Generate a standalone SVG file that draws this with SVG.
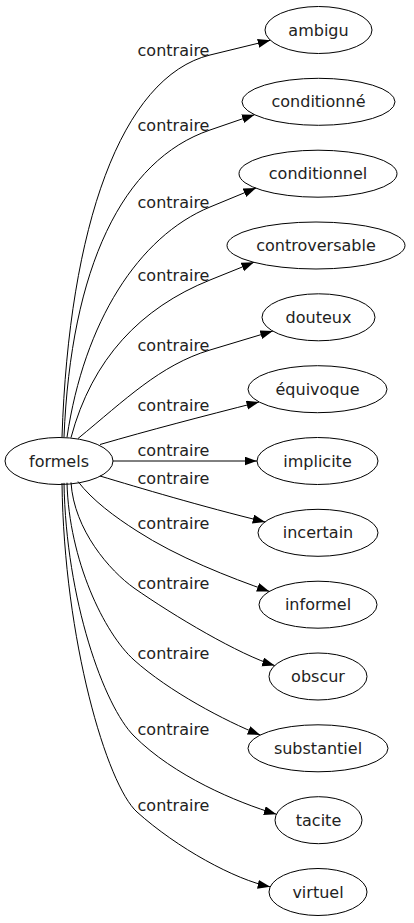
<svg xmlns="http://www.w3.org/2000/svg" width="414" height="923" viewBox="0 0 414 923">
<defs>
<marker id="arr" markerUnits="userSpaceOnUse" markerWidth="14" markerHeight="10" refX="12.5" refY="4.5" orient="auto">
<path d="M0,0 L12.5,4.5 L0,9 Z" fill="#000"/>
</marker>
<style>
.n ellipse{fill:none;stroke:#000;stroke-width:1}
.n text{font-family:"DejaVu Sans",sans-serif;font-size:16px;text-anchor:middle;fill:#222}
.e path{fill:none;stroke:#000;stroke-width:1;marker-end:url(#arr)}
.e text{font-family:"DejaVu Sans",sans-serif;font-size:16px;text-anchor:middle;fill:#222}
</style>
</defs>
<rect width="414" height="923" fill="#fff"/>
<g id="edges" class="e">
<path d="M62,437 C69,227 121,77 210,55 L270.3,40.3"/>
<path d="M64,437 C71,268 122,160 210,130 L254.5,114.7"/>
<path d="M67,437.3 C84,322 138.5,236.5 210,207 L256,188"/>
<path d="M71,437.6 C92,359 140.5,308 210,280 L253.9,262.3"/>
<path d="M78,438.5 C125,400 160,365 210,350 L272.8,331.1"/>
<path d="M100,444.5 C150,430 200,417 259,402"/>
<path d="M113,461 L257,461"/>
<path d="M100,476 C140,488 200,506 265.2,522"/>
<path d="M78,481.5 C92,500 115,517 137,531 C177,557 229.4,577.4 269.4,591.4"/>
<path d="M71,482.4 C74,530 110,571 134,588 C174,616 239.7,655 274.7,665.5"/>
<path d="M67,482.7 C69,560 104,633 134,660 C169,691.5 225.2,721 260.2,735"/>
<path d="M64,482.9 C66,600 104,706 134,736 C174,776 236.4,802.2 276.4,814.2"/>
<path d="M62,483 C64,640 107,785 137,812 C177,848 235.2,879.8 270.2,886.8"/>
<text x="173.5" y="56">contraire</text>
<text x="173.5" y="131">contraire</text>
<text x="173.5" y="208">contraire</text>
<text x="173.5" y="281">contraire</text>
<text x="173.5" y="351">contraire</text>
<text x="173.5" y="411">contraire</text>
<text x="173.5" y="456">contraire</text>
<text x="173.5" y="484">contraire</text>
<text x="173.5" y="529">contraire</text>
<text x="173.5" y="589">contraire</text>
<text x="173.5" y="659">contraire</text>
<text x="173.5" y="735">contraire</text>
<text x="173.5" y="811">contraire</text>
</g>
<g id="formels" class="n"><ellipse cx="59" cy="461" rx="54" ry="23.5"/><text x="59" y="466.5">formels</text></g>
<g id="ambigu" class="n"><ellipse cx="318.5" cy="30" rx="53.5" ry="23.5"/><text x="318.5" y="35.5">ambigu</text></g>
<g id="conditionne" class="n"><ellipse cx="318.5" cy="101.8" rx="76.5" ry="23.5"/><text x="318.5" y="107.3">conditionné</text></g>
<g id="conditionnel" class="n"><ellipse cx="318" cy="173.7" rx="79" ry="23.5"/><text x="318" y="179.2">conditionnel</text></g>
<g id="controversable" class="n"><ellipse cx="316" cy="245.5" rx="89" ry="23.5"/><text x="316" y="251">controversable</text></g>
<g id="douteux" class="n"><ellipse cx="318.5" cy="317.3" rx="56.5" ry="23.5"/><text x="318.5" y="322.8">douteux</text></g>
<g id="equivoque" class="n"><ellipse cx="317.5" cy="389.2" rx="69.5" ry="23.5"/><text x="317.5" y="394.7">équivoque</text></g>
<g id="implicite" class="n"><ellipse cx="317.5" cy="461" rx="60.5" ry="23.5"/><text x="317.5" y="466.5">implicite</text></g>
<g id="incertain" class="n"><ellipse cx="318" cy="532.8" rx="60" ry="23.5"/><text x="318" y="538.3">incertain</text></g>
<g id="informel" class="n"><ellipse cx="318" cy="604.7" rx="59" ry="23.5"/><text x="318" y="610.2">informel</text></g>
<g id="obscur" class="n"><ellipse cx="318" cy="676.5" rx="49" ry="23.5"/><text x="318" y="682">obscur</text></g>
<g id="substantiel" class="n"><ellipse cx="318" cy="748.3" rx="70" ry="23.5"/><text x="318" y="753.8">substantiel</text></g>
<g id="tacite" class="n"><ellipse cx="318.5" cy="820.2" rx="43.5" ry="23.5"/><text x="318.5" y="825.7">tacite</text></g>
<g id="virtuel" class="n"><ellipse cx="318" cy="892" rx="49" ry="23.5"/><text x="318" y="897.5">virtuel</text></g>
</svg>
